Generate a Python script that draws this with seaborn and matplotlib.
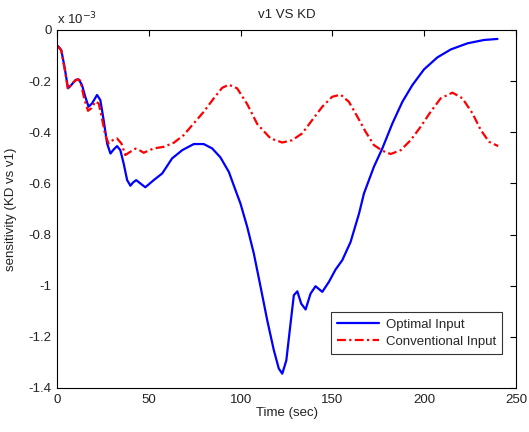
import matplotlib
matplotlib.use("Agg")
import matplotlib.pyplot as plt
import seaborn as sns
import pandas as pd

# Optimal input (values in units of 1e-3)
opt_t = [0.5, 2.3, 4.1, 6.0, 7.8, 10.0, 11.8, 13.6, 15.4, 17.2, 19.1, 21.8, 23.6, 25.4,
         27.3, 29.1, 30.9, 32.7, 34.5, 36.3, 38.2, 40.0, 41.2, 43.1, 45.4, 48.1, 52.7,
         57.3, 62.7, 68.2, 74.5, 79.9, 84.5, 89.0, 93.6, 97.2, 99.9, 103.6, 107.2,
         110.9, 114.5, 118.1, 120.8, 122.7, 124.9, 127.2, 129.0, 130.9, 133.0, 135.4,
         138.1, 140.8, 144.5, 148.1, 151.7, 155.4, 159.9, 164.5, 167.2, 172.6, 177.2,
         182.7, 188.1, 193.6, 199.9, 207.2, 214.5, 223.6, 232.6, 239.9]
opt_v = [-0.063, -0.078, -0.144, -0.228, -0.215, -0.196, -0.193, -0.215, -0.261, -0.300,
         -0.287, -0.254, -0.274, -0.352, -0.444, -0.483, -0.467, -0.454, -0.470, -0.522,
         -0.587, -0.609, -0.598, -0.587, -0.600, -0.615, -0.587, -0.561, -0.502, -0.470,
         -0.446, -0.446, -0.463, -0.498, -0.555, -0.626, -0.678, -0.770, -0.874, -1.005,
         -1.135, -1.252, -1.324, -1.344, -1.292, -1.148, -1.037, -1.022, -1.070, -1.093,
         -1.031, -1.002, -1.024, -0.985, -0.937, -0.900, -0.829, -0.718, -0.639, -0.535,
         -0.463, -0.365, -0.281, -0.215, -0.154, -0.107, -0.076, -0.052, -0.039, -0.035]

# Conventional input (values in units of 1e-3)
conv_t = [0.5, 2.3, 4.1, 6.0, 8.2, 10.9, 12.7, 15.0, 16.9, 18.7, 20.9, 22.7, 24.5, 26.3,
          28.1, 30.3, 32.7, 35.1, 37.2, 40.0, 42.7, 45.4, 47.2, 52.7, 58.1, 63.6, 69.0,
          74.5, 79.9, 85.4, 90.0, 93.6, 98.1, 103.6, 109.1, 116.3, 122.7, 128.1, 133.6,
          139.0, 144.5, 149.9, 154.5, 159.0, 163.6, 168.1, 172.6, 177.2, 181.7, 187.2,
          192.6, 198.1, 203.5, 209.0, 215.4, 220.8, 226.3, 230.8, 235.3, 240.3]
conv_v = [-0.063, -0.080, -0.150, -0.232, -0.209, -0.193, -0.198, -0.274, -0.316, -0.306,
          -0.280, -0.287, -0.346, -0.411, -0.444, -0.431, -0.424, -0.444, -0.489, -0.476,
          -0.464, -0.472, -0.480, -0.463, -0.457, -0.441, -0.411, -0.365, -0.320, -0.267,
          -0.226, -0.214, -0.228, -0.290, -0.368, -0.424, -0.440, -0.431, -0.404, -0.352,
          -0.300, -0.261, -0.253, -0.281, -0.339, -0.398, -0.450, -0.472, -0.485, -0.470,
          -0.431, -0.378, -0.320, -0.267, -0.245, -0.267, -0.326, -0.391, -0.437, -0.454]

x_ticks = [0, 50, 100, 150, 200, 250]
y_ticks = [0, -0.2, -0.4, -0.6, -0.8, -1, -1.2, -1.4]
y_tick_labels = ["0", "-0.2", "-0.4", "-0.6", "-0.8", "-1", "-1.2", "-1.4"]

sns.set_style("white")
plt.rcParams["font.family"] = ["Liberation Sans", "DejaVu Sans"]
FS = 9.5
plt.rcParams["font.size"] = FS

df_opt = pd.DataFrame({"t": opt_t, "v": opt_v})
df_conv = pd.DataFrame({"t": conv_t, "v": conv_v})

fig = plt.figure(figsize=(5.29, 4.32), dpi=100)
ax = fig.add_axes([57 / 529, 1 - 388 / 432, (516 - 57) / 529, (388 - 30) / 432])

sns.lineplot(data=df_opt, x="t", y="v", ax=ax, color="#0000ff", lw=1.6,
             label="Optimal Input", sort=False)
sns.lineplot(data=df_conv, x="t", y="v", ax=ax, color="#ff0000", lw=1.6,
             label="Conventional Input", sort=False)
ax.lines[1].set_linestyle((0, (4, 1.5, 1, 1.5)))

ax.set_xlim(0, 250)
ax.set_ylim(-1.4, 0)
ax.set_xticks(x_ticks)
ax.set_xticklabels([str(t) for t in x_ticks])
ax.set_yticks(y_ticks)
ax.set_yticklabels(y_tick_labels)
ax.tick_params(direction="in", length=4, width=0.8, top=True, right=True,
               labelsize=FS, colors="black", labelcolor="#222222", pad=4)
for s in ax.spines.values():
    s.set_visible(True)
    s.set_color("black")
    s.set_linewidth(0.8)

ax.set_xlabel("Time (sec)", fontsize=FS, color="#222222", labelpad=1)
ax.set_ylabel("sensitivity (KD vs v1)", fontsize=FS, color="#222222", labelpad=8)
ax.set_title("v1 VS KD", fontsize=FS, color="#222222", pad=9)
ax.text(0.0, 1.008, r"x 10$^{-3}$", transform=ax.transAxes, fontsize=FS,
        color="#222222", ha="left", va="bottom")

leg = ax.legend(loc="lower right", bbox_to_anchor=(0.969, 0.095), borderaxespad=0,
                frameon=True, fancybox=False, edgecolor="black", fontsize=FS,
                handlelength=3.2, borderpad=0.45, labelspacing=0.4, handletextpad=0.5)
leg.get_frame().set_linewidth(0.8)

fig.savefig("out.png", dpi=100, facecolor="white")
